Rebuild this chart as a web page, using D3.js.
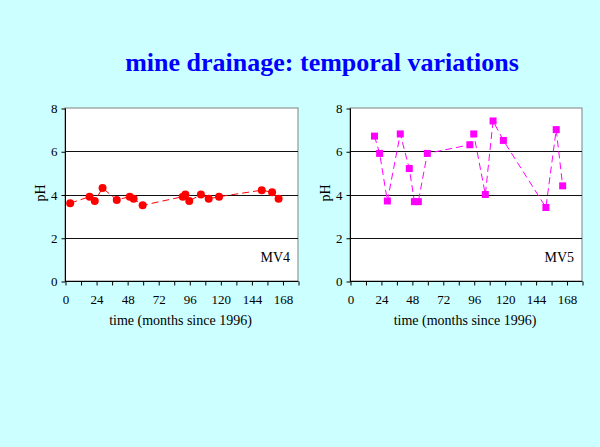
<!DOCTYPE html>
<html><head><meta charset="utf-8">
<script src="https://cdn.jsdelivr.net/npm/d3@7"></script>
<style>html,body{margin:0;padding:0;background:#CCFFFF;}svg{display:block;}</style>
</head><body>
<script>
const title = "mine drainage: temporal variations";
const xTitle = "time (months since 1996)";
const yTitle = "pH";
const xTickLabels = [0, 24, 48, 72, 96, 120, 144, 168];
const yTickLabels = [0, 2, 4, 6, 8];

const mv4Months = [4, 19, 23, 29, 40, 50, 53, 60, 91, 93, 96, 105, 111, 119, 152, 160, 165];
const mv4pH     = [3.6, 3.9, 3.7, 4.3, 3.75, 3.9, 3.8, 3.5, 3.9, 4.0, 3.7, 4.0, 3.8, 3.9, 4.2, 4.1, 3.8];

const mv5Months = [19, 23, 29, 39, 46, 50, 53, 60, 93, 96, 105, 111, 119, 152, 160, 165];
const mv5pH     = [6.7, 5.9, 3.7, 6.8, 5.2, 3.67, 3.67, 5.9, 6.3, 6.8, 4.0, 7.4, 6.5, 3.4, 7.0, 4.4];

const W = 600, H = 447;
const FONT = "'Liberation Serif', 'Times New Roman', serif";
const svg = d3.select("body").append("svg").attr("width", W).attr("height", H);
svg.append("rect").attr("width", W).attr("height", H).attr("fill", "#CCFFFF");

svg.append("text").attr("x", 322).attr("y", 71).attr("text-anchor", "middle")
  .attr("font-family", FONT).attr("font-weight", "bold")
  .attr("font-size", 26).attr("fill", "#0000FF").text(title);

function panel(x0, x1, months, vals, color, shape, label) {
  const y0 = 281, yTop = 108;
  const x = d3.scaleLinear().domain([0, 180]).range([x0, x1]);
  const y = d3.scaleLinear().domain([0, 8]).range([y0, yTop]);
  const g = svg.append("g");
  g.append("rect").attr("x", x0).attr("y", yTop).attr("width", x1 - x0).attr("height", y0 - yTop)
    .attr("fill", "#fff").attr("stroke", "#808080").attr("stroke-width", 1);
  g.selectAll("line.grid").data([2, 4, 6]).enter().append("line")
    .attr("x1", x0).attr("x2", x1).attr("y1", d => Math.round(y(d)) + 0.5).attr("y2", d => Math.round(y(d)) + 0.5)
    .attr("stroke", "#111").attr("stroke-width", 1);
  const ya = d3.axisLeft(y).tickValues(yTickLabels).tickSize(4).tickPadding(4).tickFormat(d3.format("d"));
  const yg = g.append("g").attr("transform", `translate(${x0 + 0.5},0.5)`).call(ya);
  const xa = d3.axisBottom(x).tickValues(d3.range(0, 181, 12)).tickSize(4).tickPadding(9)
    .tickFormat(d => xTickLabels.includes(d) ? d : "");
  const xg = g.append("g").attr("transform", `translate(0.5,${y0 + 0.5})`).call(xa);
  [yg, xg].forEach(a => {
    a.attr("font-family", FONT);
    a.select(".domain").attr("stroke", "#000");
    a.selectAll(".tick line").attr("stroke", "#000");
    a.selectAll("text").attr("font-family", FONT).attr("font-size", 13).attr("fill", "#000");
  });
  xg.select(".domain").attr("d", `M${x0 - 0.5},0H${x1}`);
  yg.select(".domain").attr("d", `M0,${y0}V${yTop}`);
  const pts = months.map((m, i) => [m, vals[i]]);
  g.append("path").datum(pts)
    .attr("d", d3.line().x(d => x(d[0])).y(d => y(d[1])))
    .attr("fill", "none").attr("stroke", color).attr("stroke-width", 1).attr("stroke-dasharray", "7,4");
  if (shape === "circle") {
    g.selectAll("circle.pt").data(pts).enter().append("circle")
      .attr("cx", d => x(d[0])).attr("cy", d => y(d[1])).attr("r", 4).attr("fill", color);
  } else {
    g.selectAll("rect.pt").data(pts).enter().append("rect")
      .attr("x", d => x(d[0]) - 3.5).attr("y", d => y(d[1]) - 3.5).attr("width", 7).attr("height", 7).attr("fill", color);
  }
  g.append("text").attr("x", x1 - 8).attr("y", 262).attr("text-anchor", "end")
    .attr("font-family", FONT).attr("font-size", 14).text(label);
  g.append("text").attr("x", (x0 + x1) / 2 - 1).attr("y", 325).attr("text-anchor", "middle")
    .attr("font-family", FONT).attr("font-size", 14).text(xTitle);
  g.append("text").attr("transform", `translate(${x0 - 20},193) rotate(-90)`).attr("text-anchor", "middle")
    .attr("font-family", FONT).attr("font-size", 14).text(yTitle);
}

panel(65, 298, mv4Months, mv4pH, "#FF0000", "circle", "MV4");
panel(350, 582, mv5Months, mv5pH, "#FF00FF", "square", "MV5");
</script>
</body></html>
